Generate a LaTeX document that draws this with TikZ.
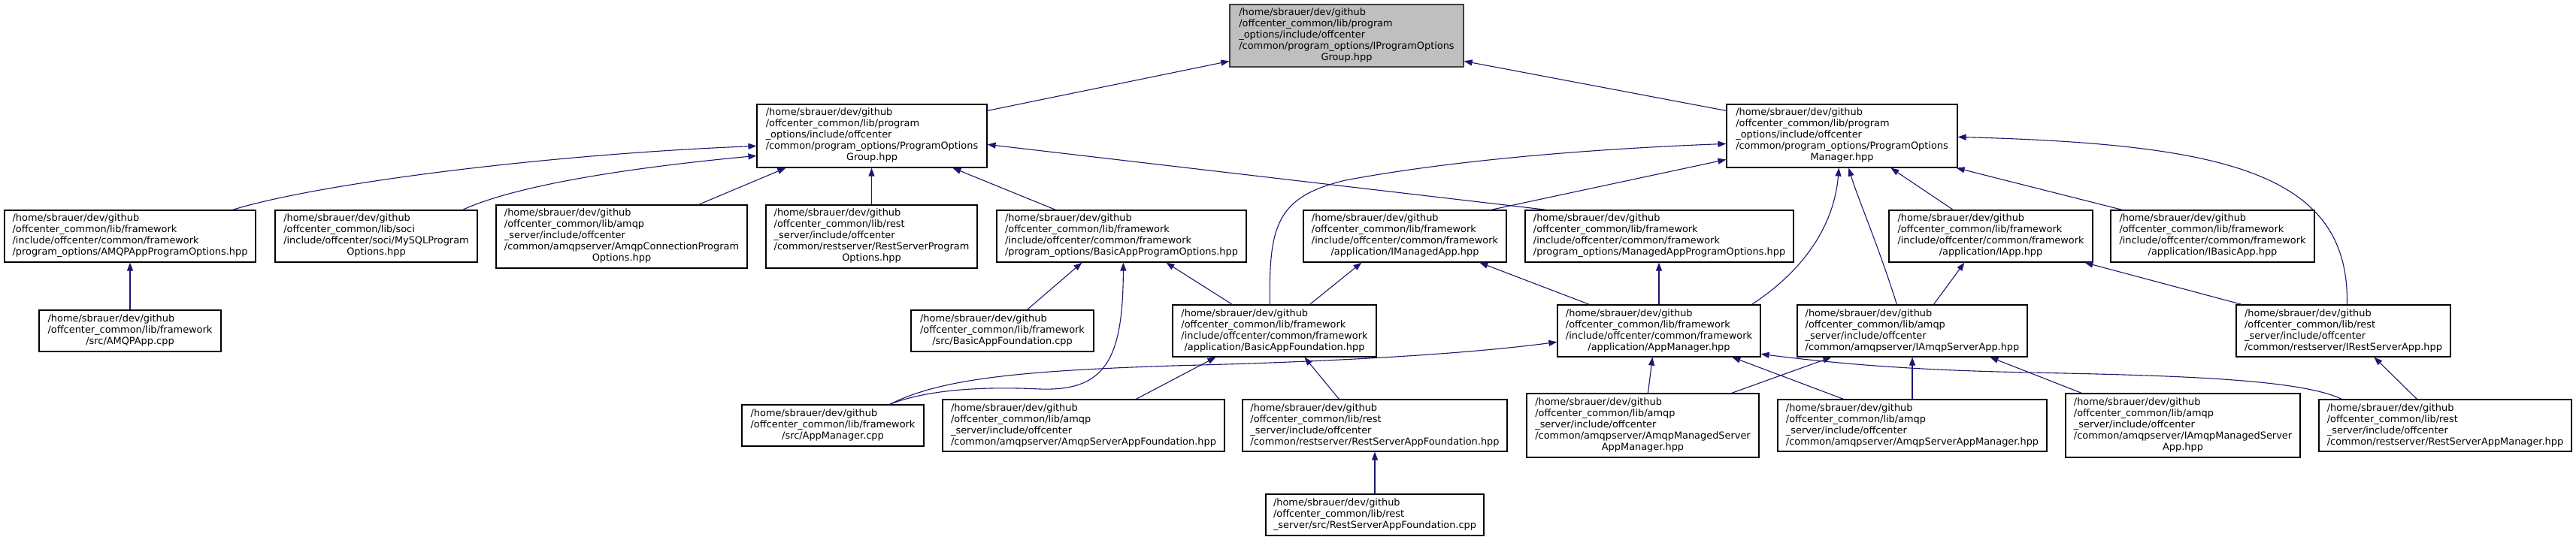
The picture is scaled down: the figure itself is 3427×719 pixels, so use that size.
\documentclass[tikz,border=0pt]{standalone}
\usepackage{fontspec}
\setmainfont{DejaVu Sans}
\usetikzlibrary{arrows.meta}
\definecolor{edgeblue}{HTML}{191970}
\definecolor{rootgrey}{HTML}{BFBFBF}
\newcommand{\dfont}{\fontsize{12.9}{15}\selectfont}
\newcommand{\dlab}[2]{\begin{tabular}{@{}l@{}}#1\\\multicolumn{1}{@{}c@{}}{#2}\end{tabular}}
\tikzset{
  filebox/.style={draw=black, line width=1.2pt, fill=white, inner sep=0pt, font=\dfont, text=black},
  rootbox/.style={filebox, fill=rootgrey, draw=black!75},
  dep/.style={draw=edgeblue, line width=1.1pt, -{Triangle[length=11pt,width=8pt]}, fill=none},
}
\begin{document}
\begin{tikzpicture}[x=1pt,y=-1pt]
\useasboundingbox (0,0) rectangle (3427,719);
% row 0
\node[rootbox, minimum width=311pt, minimum height=83pt] (root) at (1791.5,47.5)
 {\dlab{/home/sbrauer/dev/github\\/offcenter\_common/lib/program\\\_options/include/offcenter\\/common/program\_options/IProgramOptions}{Group.hpp}};
% row 1
\node[filebox, minimum width=306pt, minimum height=84pt] (pog) at (1160,181)
 {\dlab{/home/sbrauer/dev/github\\/offcenter\_common/lib/program\\\_options/include/offcenter\\/common/program\_options/ProgramOptions}{Group.hpp}};
\node[filebox, minimum width=307pt, minimum height=84pt] (pom) at (2450.5,181)
 {\dlab{/home/sbrauer/dev/github\\/offcenter\_common/lib/program\\\_options/include/offcenter\\/common/program\_options/ProgramOptions}{Manager.hpp}};
% row 2
\node[filebox, minimum width=334pt, minimum height=69pt] (aapo) at (173,314.5)
 {\dlab{/home/sbrauer/dev/github\\/offcenter\_common/lib/framework\\/include/offcenter/common/framework}{/program\_options/AMQPAppProgramOptions.hpp}};
\node[filebox, minimum width=269pt, minimum height=69pt] (mysql) at (500.5,314.5)
 {\dlab{/home/sbrauer/dev/github\\/offcenter\_common/lib/soci\\/include/offcenter/soci/MySQLProgram}{Options.hpp}};
\node[filebox, minimum width=334pt, minimum height=84pt] (acpo) at (827,315)
 {\dlab{/home/sbrauer/dev/github\\/offcenter\_common/lib/amqp\\\_server/include/offcenter\\/common/amqpserver/AmqpConnectionProgram}{Options.hpp}};
\node[filebox, minimum width=281pt, minimum height=84pt] (rspo) at (1159.5,315)
 {\dlab{/home/sbrauer/dev/github\\/offcenter\_common/lib/rest\\\_server/include/offcenter\\/common/restserver/RestServerProgram}{Options.hpp}};
\node[filebox, minimum width=332pt, minimum height=69pt] (bapo) at (1492,314.5)
 {\dlab{/home/sbrauer/dev/github\\/offcenter\_common/lib/framework\\/include/offcenter/common/framework}{/program\_options/BasicAppProgramOptions.hpp}};
\node[filebox, minimum width=270pt, minimum height=69pt] (ima) at (1869,314.5)
 {\dlab{/home/sbrauer/dev/github\\/offcenter\_common/lib/framework\\/include/offcenter/common/framework}{/application/IManagedApp.hpp}};
\node[filebox, minimum width=357pt, minimum height=69pt] (mapo) at (2207.5,314.5)
 {\dlab{/home/sbrauer/dev/github\\/offcenter\_common/lib/framework\\/include/offcenter/common/framework}{/program\_options/ManagedAppProgramOptions.hpp}};
\node[filebox, minimum width=271pt, minimum height=69pt] (iapp) at (2648.5,314.5)
 {\dlab{/home/sbrauer/dev/github\\/offcenter\_common/lib/framework\\/include/offcenter/common/framework}{/application/IApp.hpp}};
\node[filebox, minimum width=271pt, minimum height=69pt] (iba) at (2943.5,314.5)
 {\dlab{/home/sbrauer/dev/github\\/offcenter\_common/lib/framework\\/include/offcenter/common/framework}{/application/IBasicApp.hpp}};
% row 3
\node[filebox, minimum width=242pt, minimum height=55pt] (amqpapp) at (173,440.5)
 {\dlab{/home/sbrauer/dev/github\\/offcenter\_common/lib/framework}{/src/AMQPApp.cpp}};
\node[filebox, minimum width=243pt, minimum height=55pt] (bafc) at (1333.5,440.5)
 {\dlab{/home/sbrauer/dev/github\\/offcenter\_common/lib/framework}{/src/BasicAppFoundation.cpp}};
\node[filebox, minimum width=271pt, minimum height=69pt] (baf) at (1695.5,440.5)
 {\dlab{/home/sbrauer/dev/github\\/offcenter\_common/lib/framework\\/include/offcenter/common/framework}{/application/BasicAppFoundation.hpp}};
\node[filebox, minimum width=270pt, minimum height=69pt] (am) at (2207,440.5)
 {\dlab{/home/sbrauer/dev/github\\/offcenter\_common/lib/framework\\/include/offcenter/common/framework}{/application/AppManager.hpp}};
\node[filebox, minimum width=306pt, minimum height=69pt] (iasa) at (2544,440.5)
 {\dlab{/home/sbrauer/dev/github\\/offcenter\_common/lib/amqp\\\_server/include/offcenter}{/common/amqpserver/IAmqpServerApp.hpp}};
\node[filebox, minimum width=285pt, minimum height=69pt] (irsa) at (3117.5,440.5)
 {\dlab{/home/sbrauer/dev/github\\/offcenter\_common/lib/rest\\\_server/include/offcenter}{/common/restserver/IRestServerApp.hpp}};
% row 4
\node[filebox, minimum width=242pt, minimum height=55pt] (amc) at (1108,566.5)
 {\dlab{/home/sbrauer/dev/github\\/offcenter\_common/lib/framework}{/src/AppManager.cpp}};
\node[filebox, minimum width=375pt, minimum height=69pt] (asaf) at (1441.5,566.5)
 {\dlab{/home/sbrauer/dev/github\\/offcenter\_common/lib/amqp\\\_server/include/offcenter}{/common/amqpserver/AmqpServerAppFoundation.hpp}};
\node[filebox, minimum width=352pt, minimum height=69pt] (rsaf) at (1829,566.5)
 {\dlab{/home/sbrauer/dev/github\\/offcenter\_common/lib/rest\\\_server/include/offcenter}{/common/restserver/RestServerAppFoundation.hpp}};
\node[filebox, minimum width=309pt, minimum height=85pt] (amsam) at (2185.5,566.5)
 {\dlab{/home/sbrauer/dev/github\\/offcenter\_common/lib/amqp\\\_server/include/offcenter\\/common/amqpserver/AmqpManagedServer}{AppManager.hpp}};
\node[filebox, minimum width=358pt, minimum height=69pt] (asam) at (2544,566.5)
 {\dlab{/home/sbrauer/dev/github\\/offcenter\_common/lib/amqp\\\_server/include/offcenter}{/common/amqpserver/AmqpServerAppManager.hpp}};
\node[filebox, minimum width=312pt, minimum height=85pt] (iamsa) at (2904,566.5)
 {\dlab{/home/sbrauer/dev/github\\/offcenter\_common/lib/amqp\\\_server/include/offcenter\\/common/amqpserver/IAmqpManagedServer}{App.hpp}};
\node[filebox, minimum width=336pt, minimum height=69pt] (rsam) at (3253,566.5)
 {\dlab{/home/sbrauer/dev/github\\/offcenter\_common/lib/rest\\\_server/include/offcenter}{/common/restserver/RestServerAppManager.hpp}};
% row 5
\node[filebox, minimum width=290pt, minimum height=55pt] (rsafc) at (1829,685.5)
 {\dlab{/home/sbrauer/dev/github\\/offcenter\_common/lib/rest}{\_server/src/RestServerAppFoundation.cpp}};

% edges (child -> included header)
\draw[dep] ([yshift=-9pt]pog.north east) -- ([yshift=-76pt]root.north west);
\draw[dep] ([yshift=-9pt]pom.north west) -- ([yshift=-76pt]root.north east);
\draw[dep] ([xshift=304pt]aapo.north west) .. controls (420,245) and (720,206) .. ([yshift=-56pt]pog.north west);
\draw[dep] ([xshift=250pt]mysql.north west) .. controls (690,245) and (850,222) .. ([yshift=-69pt]pog.north west);
\draw[dep] ([xshift=270pt]acpo.north west) -- ([xshift=39pt]pog.south west);
\draw[dep] (rspo.north) -- (rspo.north |- pog.south);
\draw[dep] ([xshift=79pt]bapo.north west) -- ([xshift=261pt]pog.south west);
\draw[dep] ([xshift=29pt]mapo.north west) -- ([yshift=-54pt]pog.north east);
\draw[dep] ([xshift=250pt]ima.north west) -- ([yshift=-74pt]pom.north west);
\draw[dep] ([xshift=130pt]baf.north west) .. controls (1688,300) and (1698,262) .. (1790,240)
  .. controls (1950,210) and (2150,197) .. ([yshift=-53pt]pom.north west);
\draw[dep] ([xshift=259pt]am.north west) .. controls (2400,360) and (2440,300) .. ([xshift=150pt]pom.south west);
\draw[dep] ([xshift=133pt]iasa.north west) .. controls (2500,330) and (2470,260) .. ([xshift=163pt]pom.south west);
\draw[dep] ([xshift=86pt]iapp.north west) -- ([xshift=219pt]pom.south west);
\draw[dep] ([xshift=16pt]iba.north west) -- ([xshift=-2pt]pom.south east);
\draw[dep] ([xshift=148pt]irsa.north west) .. controls (3126,230) and (2960,192) .. ([yshift=-44pt]pom.north east);
\draw[dep] (amqpapp.north) -- (amqpapp.north |- aapo.south);
\draw[dep] ([xshift=155pt]bafc.north west) -- ([xshift=114pt]bapo.south west);
\draw[dep] ([xshift=80pt]baf.north west) -- ([xshift=226pt]bapo.south west);
\draw[dep] ([xshift=-46pt]amc.north east) .. controls (1230,520) and (1300,514) .. (1383,518)
  .. controls (1470,521) and (1494,480) .. ([xshift=169pt]bapo.south west);
\draw[dep] ([xshift=183pt]baf.north west) -- ([xshift=78pt]ima.south west);
\draw[dep] ([xshift=43pt]am.north west) -- ([xshift=235pt]ima.south west);
\draw[dep] (am.north) -- (am.north |- mapo.south);
\draw[dep] ([xshift=182pt]iasa.north west) -- ([xshift=101pt]iapp.south west);
\draw[dep] ([xshift=8pt]irsa.north west) -- ([xshift=261pt]iapp.south west);
\draw[dep] ([xshift=-46pt]amc.north east) .. controls (1250,505) and (1350,494) .. (1560,487)
  .. controls (1800,481) and (1960,470) .. ([yshift=-50pt]am.north west);
\draw[dep] ([xshift=258pt]asaf.north west) -- ([xshift=58pt]baf.south west);
\draw[dep] ([xshift=129pt]rsaf.north west) -- ([xshift=176pt]baf.south west);
\draw[dep] (rsafc.north) -- (rsafc.north |- rsaf.south);
\draw[dep] ([xshift=162pt]amsam.north west) -- ([xshift=127pt]am.south west);
\draw[dep] ([xshift=88pt]asam.north west) -- ([xshift=233pt]am.south west);
\draw[dep] ([xshift=31pt]rsam.north west) .. controls (3060,505) and (2900,500) .. (2700,496)
  .. controls (2550,493) and (2450,485) .. ([yshift=-66pt]am.north east);
\draw[dep] ([xshift=-37pt]amsam.north east) -- ([xshift=46pt]iasa.south west);
\draw[dep] (asam.north) -- (asam.north |- iasa.south);
\draw[dep] ([xshift=22pt]iamsa.north west) -- ([xshift=257pt]iasa.south west);
\draw[dep] ([xshift=131pt]rsam.north west) -- ([xshift=184pt]irsa.south west);
\end{tikzpicture}
\end{document}
